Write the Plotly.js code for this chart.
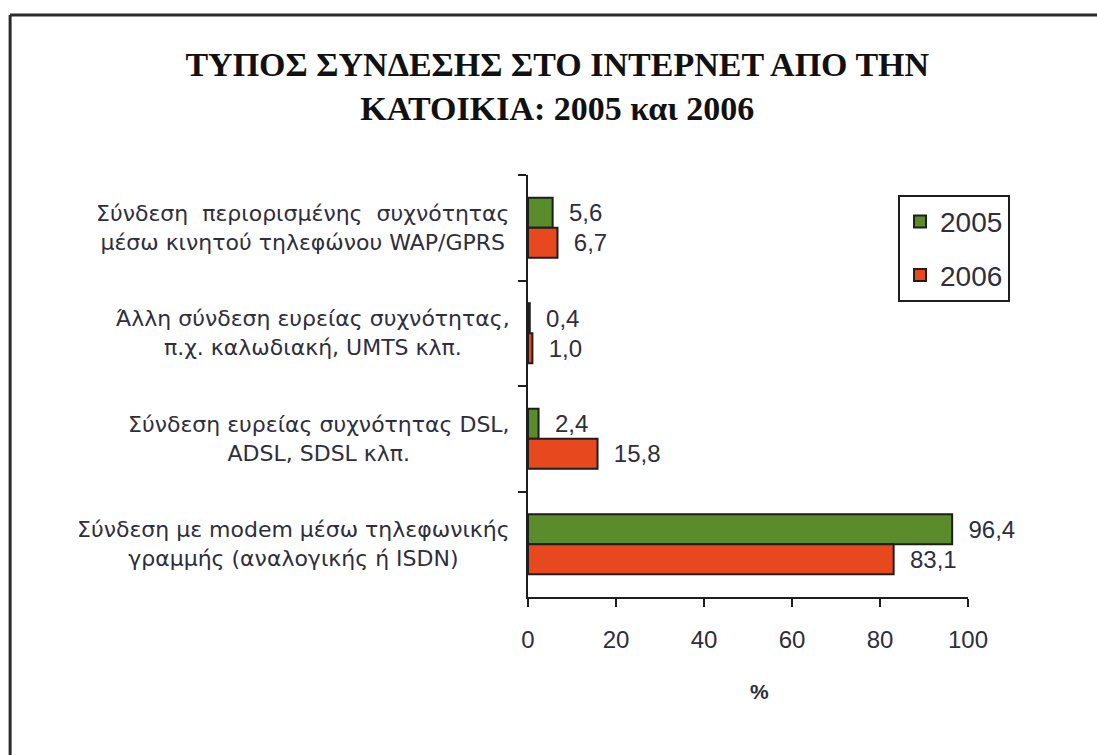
<!DOCTYPE html>
<html>
<head>
<meta charset="utf-8">
<script src="https://cdn.plot.ly/plotly-3.0.1.min.js"></script>
<style>
html,body{margin:0;padding:0;background:#fff;}
#chart{width:1097px;height:755px;}
</style>
</head>
<body>
<div id="chart"></div>
<script>
var categories = [
  "Σύνδεση  περιορισμένης  συχνότητας<br>μέσω κινητού τηλεφώνου WAP/GPRS",
  "Άλλη σύνδεση ευρείας συχνότητας,<br>π.χ. καλωδιακή, UMTS κλπ.",
  "Σύνδεση ευρείας συχνότητας DSL,<br>ADSL, SDSL κλπ.",
  "Σύνδεση με modem μέσω τηλεφωνικής<br>γραμμής (αναλογικής ή ISDN)"
];
var values2005 = [5.6, 0.4, 2.4, 96.4];
var values2006 = [6.7, 1.0, 15.8, 83.1];
var seriesNames = ["2005", "2006"];
var xTicks = [0, 20, 40, 60, 80, 100];

var textColor = "#2e2e3c";

function fmt(v){ return "\u00a0\u00a0" + v.toFixed(1).replace(".", ","); }

var traces = [
  {
    type: "bar", orientation: "h", name: seriesNames[0], legendgroup: "a",
    y: categories, x: values2005,
    text: values2005.map(fmt), textposition: "outside", cliponaxis: false,
    textfont: {family: "Liberation Sans, Arial, sans-serif", size: 24, color: textColor},
    marker: {color: "#5b8c2c", line: {color: "#1e1e1e", width: 2}}
  },
  {
    type: "bar", orientation: "h", name: seriesNames[1], legendgroup: "b",
    y: categories, x: values2006,
    text: values2006.map(fmt), textposition: "outside", cliponaxis: false,
    textfont: {family: "Liberation Sans, Arial, sans-serif", size: 24, color: textColor},
    marker: {color: "#e8481e", line: {color: "#1e1e1e", width: 2}}
  }
];

var annotations = categories.map(function(c){
  return {
    xref: "paper", yref: "y", x: 0, y: c, xshift: -16,
    xanchor: "right", yanchor: "middle", align: "center",
    text: c, showarrow: false,
    font: {family: "DejaVu Sans, Verdana, sans-serif", size: 22, color: textColor}
  };
});
annotations.push({
  xref: "paper", yref: "paper", x: 0.527, y: -0.225, xanchor: "center", yanchor: "middle",
  text: "%", showarrow: false,
  font: {family: "Liberation Sans, Arial, sans-serif", size: 21, color: textColor, weight: "bold"}
});

var layout = {
  width: 1097, height: 755,
  paper_bgcolor: "#ffffff", plot_bgcolor: "#ffffff",
  margin: {l: 528, r: 129, t: 175, b: 158},
  title: {
    text: "ΤΥΠΟΣ ΣΥΝΔΕΣΗΣ ΣΤΟ ΙΝΤΕΡΝΕΤ ΑΠΟ ΤΗΝ<br>ΚΑΤΟΙΚΙΑ: 2005 και 2006",
    x: 0.508, xanchor: "center", y: 0.90, yanchor: "top",
    font: {family: "Liberation Serif, Times New Roman, serif", size: 34, color: "#111", weight: "bold"}
  },
  barmode: "group",
  bargap: 0.43,
  bargroupgap: 0,
  showlegend: true,
  legend: {
    x: 0.841, y: 0.953, xanchor: "left", yanchor: "top",
    bgcolor: "#ffffff", bordercolor: "#1e1e1e", borderwidth: 2,
    font: {family: "Liberation Sans, Arial, sans-serif", size: 28, color: textColor},
    traceorder: "grouped", tracegroupgap: 14, itemwidth: 30
  },
  xaxis: {
    range: [0, 100], tickvals: xTicks, ticktext: xTicks.map(String),
    ticks: "outside", ticklen: 8, tickwidth: 2, tickcolor: "#1e1e1e",
    showline: true, linecolor: "#1e1e1e", linewidth: 2,
    showgrid: false, zeroline: false,
    ticklabelstandoff: 12,
    tickfont: {family: "Liberation Sans, Arial, sans-serif", size: 24, color: textColor}
  },
  yaxis: {
    type: "category", autorange: "reversed",
    showticklabels: false,
    ticks: "outside", tickson: "boundaries", ticklen: 8, tickwidth: 2, tickcolor: "#1e1e1e",
    showline: true, linecolor: "#1e1e1e", linewidth: 2,
    showgrid: false, zeroline: false
  },
  annotations: annotations,
  shapes: [
    {type: "line", xref: "paper", yref: "paper", x0: -1.177, x1: 1.3, y0: 1.379, y1: 1.379, line: {color: "#2a2a2a", width: 3}},
    {type: "line", xref: "paper", yref: "paper", x0: -1.177, x1: -1.177, y0: 1.379, y1: -0.5, line: {color: "#2a2a2a", width: 3}}
  ]
};

Plotly.newPlot("chart", traces, layout, {displayModeBar: false, staticPlot: true});
</script>
</body>
</html>
